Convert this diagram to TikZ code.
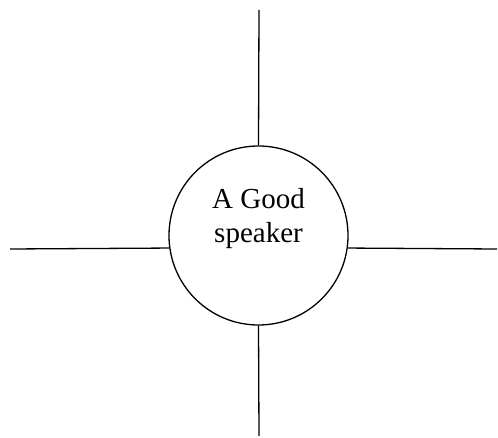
\documentclass[tikz,border=0pt]{standalone}
\usepackage{fontspec}
\setmainfont{Liberation Serif}
\usepackage{tikz}
\usetikzlibrary{positioning,calc}

\begin{document}
\begin{tikzpicture}[
  x=1pt,y=-1pt,
  % --- shared look ---
  ring/.style  ={draw=black,circle,line width=1.3pt,minimum size=179pt,inner sep=0pt},
  title/.style ={align=center,text=black,inner sep=0pt,
                 font=\fontsize{29pt}{33.7pt}\selectfont},
  spoke/.style ={draw=black,line width=1.3pt},
]
\useasboundingbox (0,0) rectangle (498,438);

% ============================ centre circle ============================
\node[ring] (speaker) at (258.5,235.5) {};
\node[title] (name) at ($(speaker.center)+(0,-17)$) {A Good\\speaker};

% ============================ spoke ends ===============================
\coordinate (topend)   at (259,10);
\coordinate (botend)   at (259,436);
\coordinate (leftend)  at (10,249);
\coordinate (rightend) at (497,249);

% ============================ spokes ===================================
\draw[spoke] (speaker.north)  -- (topend);
\draw[spoke] (speaker.south)  -- (botend);
\draw[spoke] (speaker.188.6)  -- (leftend);
\draw[spoke] (speaker.-8.6)   -- (rightend);

\end{tikzpicture}
\end{document}
